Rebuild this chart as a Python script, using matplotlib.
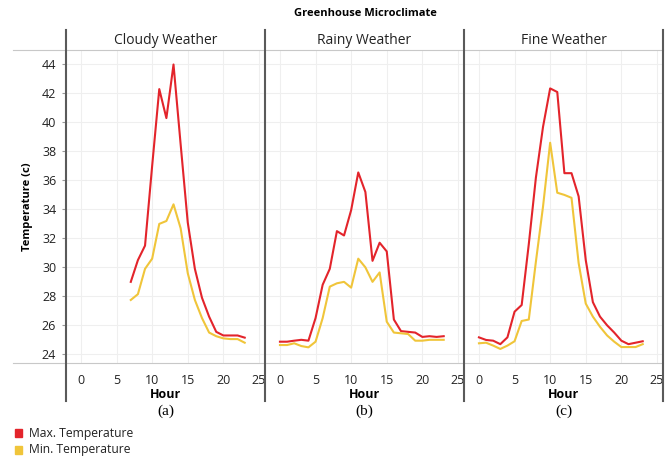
import matplotlib
matplotlib.use("Agg")
import matplotlib.pyplot as plt
from matplotlib.lines import Line2D
from matplotlib.patches import Rectangle

plt.rcParams['font.family'] = ['Open Sans', 'DejaVu Sans']

# hourly data
hours_cloudy = list(range(7, 24))
cloudy_max = [29.0, 30.5, 31.5, 37.0, 42.3, 40.3, 44.0, 38.5, 33.1, 29.9, 27.9,
              26.6, 25.55, 25.3, 25.3, 25.3, 25.15]
cloudy_min = [27.75, 28.15, 29.9, 30.6, 33.0, 33.2, 34.35, 32.7, 29.6, 27.75, 26.5,
              25.5, 25.25, 25.1, 25.05, 25.05, 24.8]

hours_full = list(range(0, 24))
rainy_max = [24.87, 24.87, 24.94, 25.0, 24.94, 26.5, 28.8, 29.9, 32.5, 32.2, 33.95, 36.55,
             35.2, 30.45, 31.7, 31.1, 26.4, 25.6, 25.55, 25.5, 25.2, 25.25, 25.2, 25.25]
rainy_min = [24.64, 24.64, 24.76, 24.57, 24.48, 24.87, 26.5, 28.67, 28.9, 29.0, 28.6, 30.6,
             30.0, 29.0, 29.65, 26.25, 25.5, 25.45, 25.4, 24.94, 24.94, 25.0, 25.0, 25.0]

fine_max = [25.17, 24.99, 24.94, 24.7, 25.17, 26.94, 27.4, 31.6, 36.2, 39.7, 42.35, 42.1,
            36.5, 36.5, 34.9, 30.5, 27.6, 26.6, 26.0, 25.5, 24.94, 24.7, 24.8, 24.9]
fine_min = [24.76, 24.8, 24.6, 24.37, 24.6, 24.9, 26.3, 26.4, 30.4, 34.2, 38.6, 35.15,
            35.0, 34.8, 30.3, 27.5, 26.6, 25.9, 25.3, 24.87, 24.5, 24.5, 24.5, 24.7]

panels = [("Cloudy Weather", "(a)", hours_cloudy, cloudy_max, cloudy_min),
          ("Rainy Weather", "(b)", hours_full, rainy_max, rainy_min),
          ("Fine Weather", "(c)", hours_full, fine_max, fine_min)]

RED = '#e3242b'
YELLOW = '#f0c53a'
TXT = '#222222'
W, H = 672, 458

fig = plt.figure(figsize=(6.72, 4.58), dpi=100)


def fx(px):
    return px / W


def fy(py):
    return 1 - py / H


edges = [66, 265, 464, 663]
top, bottom = 50, 363

for i, (name, tag, hrs, tmax, tmin) in enumerate(panels):
    x0, x1 = edges[i], edges[i + 1]
    ax = fig.add_axes([fx(x0), fy(bottom), fx(x1 - x0), fy(top) - fy(bottom)])
    ax.plot(hrs, tmax, color=RED, lw=1.5)
    ax.plot(hrs, tmin, color=YELLOW, lw=1.5)
    ax.set_xlim(-2.1, 25.85)
    ax.set_ylim(23.4, 45)
    ax.set_xticks([0, 5, 10, 15, 20, 25])
    ax.set_yticks(range(24, 45, 2))
    ax.grid(True, color='#efefef', lw=0.8)
    for s in ['left', 'right']:
        ax.spines[s].set_visible(False)
    for s in ['top', 'bottom']:
        ax.spines[s].set_color('#c8c8c8')
    ax.tick_params(axis='x', length=0, pad=8, labelsize=9, labelcolor=TXT)
    if i == 0:
        ax.tick_params(axis='y', length=3, color='#999999', pad=4, labelsize=9,
                       labelcolor=TXT)
        ax.set_ylabel("Temperature (c)", fontsize=8, fontweight='bold', labelpad=6)
    else:
        ax.tick_params(axis='y', length=0, labelleft=False)
    cx = (x0 + x1) / 2
    fig.text(fx(cx), fy(41), name, ha='center', va='center', fontsize=10, color=TXT)
    fig.text(fx(cx), fy(394), "Hour", ha='center', va='center', fontsize=9, fontweight='bold')
    fig.text(fx(cx), fy(411), tag, ha='center', va='center', fontsize=11,
             family='Liberation Serif')

# extend the horizontal frame lines to the left of first panel
for py in (top, bottom):
    fig.add_artist(Line2D([fx(13), fx(66)], [fy(py), fy(py)], color='#c8c8c8', lw=0.8))

# panel dividers
for px in edges:
    fig.add_artist(Line2D([fx(px), fx(px)], [fy(30), fy(401)], color='#5a5a5a', lw=1.5))

fig.text(fx(365), fy(13), "Greenhouse Microclimate", ha='center', va='center',
         fontsize=8, fontweight='bold')

# legend
for py, col, lab in [(433, RED, "Max. Temperature"), (450, YELLOW, "Min. Temperature")]:
    fig.add_artist(Rectangle((fx(15), fy(py + 4)), fx(7), fy(py - 4) - fy(py + 4),
                             color=col, transform=fig.transFigure))
    fig.text(fx(29), fy(py), lab, ha='left', va='center', fontsize=8.7, color=TXT)

fig.savefig("out.png", dpi=100)
